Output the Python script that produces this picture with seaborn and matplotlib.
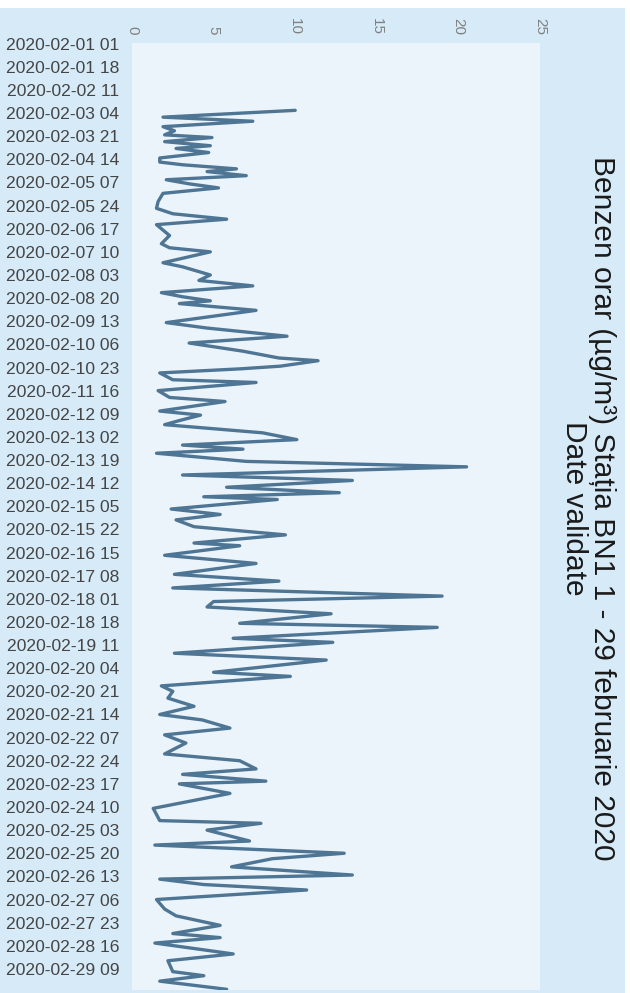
import numpy as np
import pandas as pd
import matplotlib
matplotlib.use('Agg')
import matplotlib.pyplot as plt
import seaborn as sns
from matplotlib.patches import Rectangle

# ora = numarul orei de la 2020-02-01 01 (axa de categorii, pas 1 ora)
ore = [49, 54, 57, 61, 64, 67, 69, 72, 75, 77, 80, 84, 87, 89, 92, 94, 97, 100,
       103, 106, 110, 116, 121, 125, 129, 133,
       141, 147, 150, 153, 161, 164, 170, 174, 178, 183, 186, 189, 191, 196,
       205, 209, 215, 220, 226,
       231, 233, 237, 239, 242, 247, 249, 255, 260, 263, 270, 273, 277, 280,
       286, 291, 295, 298, 301, 307, 311, 317,
       321, 326, 330, 333, 335, 342, 346, 350, 355, 361, 367, 369, 376, 382,
       390, 395, 400, 406, 410,
       414, 419, 426, 429, 437, 440, 448, 453, 462, 465, 472, 476, 481, 487,
       493, 497, 503,
       508, 514, 522, 527, 533, 537, 542, 544, 551, 562, 571, 573, 578, 586,
       589, 595,
       599, 605, 611, 614, 618, 622, 629, 636, 641, 648, 654, 657, 661, 669,
       674, 682, 685, 689, 695]
benzen = [10.0, 1.9, 7.4, 1.9, 2.6, 2.0, 4.9, 2.0, 4.8, 2.7, 4.7, 1.7, 1.7, 3.1, 6.4, 4.6, 7.0, 2.1,
          3.5, 5.3, 1.9, 1.6, 1.5, 2.5, 5.8, 1.5,
          2.3, 1.8, 2.3, 4.8, 1.9, 3.1, 4.8, 4.1, 7.4, 1.8, 3.1, 4.8, 2.9, 7.6,
          2.1, 4.6, 9.5, 3.5, 6.8,
          9.0, 11.4, 9.1, 6.6, 1.7, 2.5, 7.6, 1.6, 2.3, 5.7, 1.7, 4.2, 2.9, 2.0,
          8.0, 10.1, 3.1, 6.8, 1.5, 7.0, 20.5, 3.1,
          13.5, 5.8, 12.7, 4.4, 8.9, 2.4, 5.4, 2.7, 3.8, 9.4, 3.8, 6.6, 2.0, 7.6,
          2.6, 9.0, 2.5, 19.0, 5.0,
          4.6, 12.2, 6.6, 18.7, 6.2, 12.3, 2.6, 11.9, 5.0, 9.7, 1.8, 2.5, 2.2, 3.8,
          1.7, 4.3, 6.0,
          2.0, 3.3, 2.0, 6.6, 7.6, 3.1, 8.2, 2.9, 6.0, 1.3, 1.7, 7.9, 4.6, 7.2,
          1.4, 13.0,
          8.6, 6.1, 13.5, 1.7, 4.4, 10.7, 1.5, 2.0, 2.7, 5.4, 2.5, 5.4, 1.4, 6.2,
          2.2, 2.5, 4.4, 1.7, 5.8]

etichete = ['2020-02-01 01', '2020-02-01 18', '2020-02-02 11', '2020-02-03 04',
            '2020-02-03 21', '2020-02-04 14', '2020-02-05 07', '2020-02-05 24',
            '2020-02-06 17', '2020-02-07 10', '2020-02-08 03', '2020-02-08 20',
            '2020-02-09 13', '2020-02-10 06', '2020-02-10 23', '2020-02-11 16',
            '2020-02-12 09', '2020-02-13 02', '2020-02-13 19', '2020-02-14 12',
            '2020-02-15 05', '2020-02-15 22', '2020-02-16 15', '2020-02-17 08',
            '2020-02-18 01', '2020-02-18 18', '2020-02-19 11', '2020-02-20 04',
            '2020-02-20 21', '2020-02-21 14', '2020-02-22 07', '2020-02-22 24',
            '2020-02-23 17', '2020-02-24 10', '2020-02-25 03', '2020-02-25 20',
            '2020-02-26 13', '2020-02-27 06', '2020-02-27 23', '2020-02-28 16',
            '2020-02-29 09']
valori_axa = [0, 5, 10, 15, 20, 25]
nr_ore = 696  # 1 feb 01 -> 29 feb 24

sns.set_theme(style='white')
plt.rcParams['font.family'] = ['Liberation Sans', 'DejaVu Sans']

W, H = 630, 993
fig = plt.figure(figsize=(W / 100, H / 100), dpi=100, facecolor='white')
fig.patches.append(Rectangle((0, 0), 625 / W, 1 - 8 / H, transform=fig.transFigure,
                             facecolor='#d6eaf7', edgecolor='none', zorder=-1))

ax = fig.add_axes([132 / W, 1 - 990 / H, 408 / W, 947 / H])
ax.set_facecolor('#ebf4fb')

df = pd.DataFrame({'ora': ore, 'benzen': benzen})
sns.lineplot(data=df, x='benzen', y='ora', sort=False, estimator=None, orient='y',
             color='#4f7595', lw=2.4, ax=ax)

ax.set_xlim(0, 25)
ax.set_ylim(nr_ore - 0.5, -0.5)
ax.xaxis.tick_top()
ax.set_xticks(valori_axa)
ax.set_xticklabels([str(v) for v in valori_axa], rotation=270, color='#808080', fontsize=11)
ax.set_yticks(np.arange(len(etichete)) * 17)
ax.set_yticklabels(etichete, fontsize=12.6, color='#454545')
ax.tick_params(length=0)
ax.tick_params(axis='y', pad=9)
ax.tick_params(axis='x', pad=6)
ax.set_xlabel('')
ax.set_ylabel('')
for s in ax.spines.values():
    s.set_visible(False)

fig.text(588 / W, 1 - 508 / H,
         'Benzen orar (µg/m³) Stația BN1 1 - 29 februarie 2020\nDate validate',
         rotation=270, ha='center', va='center', multialignment='center',
         fontsize=21.5, color='#1a1a1a', linespacing=1.0)

fig.savefig('out.png', dpi=100, facecolor=fig.get_facecolor())
